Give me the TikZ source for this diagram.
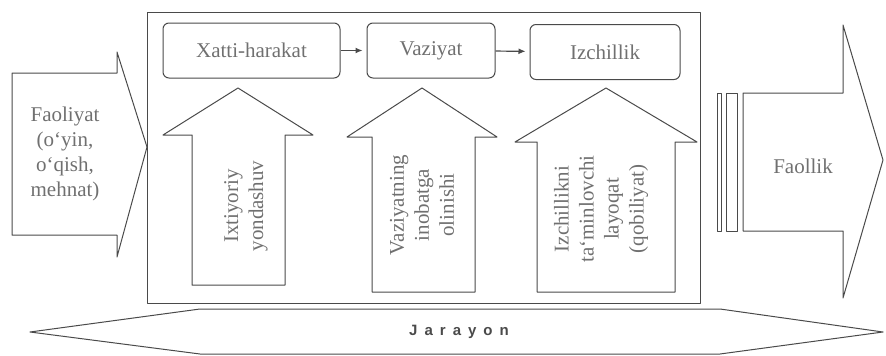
\documentclass[tikz,border=0pt]{standalone}
\usepackage{fontspec}
\setmainfont{Liberation Serif}
\newfontfamily\bandfont{Liberation Sans}
\usetikzlibrary{arrows.meta, positioning}
\definecolor{ink}{HTML}{4A4A4A}
\definecolor{txt}{HTML}{707070}

\begin{document}
\begin{tikzpicture}[x=1pt, y=-1pt,
      shape line/.style={draw=ink, line width=1pt, line join=round},
      stepbox/.style={draw=ink, line width=1pt, rounded corners=6pt, minimum height=55pt,
        inner sep=0pt, font=\fontsize{21}{25}\selectfont, text=txt},
      lbl/.style={align=center, inner sep=0pt, font=\fontsize{21}{25}\selectfont, text=txt},
      uplbl/.style={lbl, rotate=90},
      arr/.style={-{Latex[length=7pt, width=6pt]}, line width=1.2pt, color=ink, shorten >=4pt}]
    \useasboundingbox (0,0) rectangle (886,356);
    % outer frame
    \draw[shape line] (147,12) rectangle (700,303);
    % input and output block arrows
    \draw[shape line] (12,73) -- (117,73) -- (117,52) -- (147,147) -- (117,257) -- (117,235) -- (12,235) -- cycle;
    \draw[shape line] (743,93) -- (843,93) -- (843,25) -- (883,160) -- (843,298) -- (843,231) -- (743,231) -- cycle;
    \draw[shape line] (717,93) rectangle (721,231);
    \draw[shape line] (726,93) rectangle (737,231);
    % process band
    \draw[shape line] (30,332) -- (200,309) -- (720,309) -- (883,332) -- (720,354) -- (200,354) -- cycle;
    % up arrows
    \draw[shape line] (192,285) -- (192,135) -- (163,135) -- (238,88) -- (313,135) -- (285,135) -- (285,285) -- cycle;
    \draw[shape line] (372,292) -- (372,137) -- (347,137) -- (422,88) -- (497,137) -- (475,137) -- (475,292) -- cycle;
    \draw[shape line] (537,292) -- (537,142) -- (515,142) -- (606,88) -- (697,142) -- (675,142) -- (675,292) -- cycle;
    % top row
    \node[stepbox, minimum width=177pt] (xh) at (251.5,50.5) {Xatti-harakat};
    \node[stepbox, minimum width=128pt] (vz) at (431,50.5) {Vaziyat};
    \node[stepbox, minimum width=150pt] (iz) at (605,52) {Izchillik};
    \draw[arr] (xh) -- (vz);
    \draw[arr] (vz) -- (iz);
    % labels
    \node[lbl] (fa) at (65,154) {Faoliyat\\(o‘yin,\\o‘qish,\\mehnat)};
    \node[uplbl] (ix) at (246,206) {Ixtiyoriy\\yondashuv};
    \node[uplbl] (vi) at (422,205) {Vaziyatning\\inobatga\\olinishi};
    \node[uplbl] (il) at (601,209) {Izchillikni\\ta‘minlovchi\\layoqat\\(qobiliyat)};
    \node[lbl] (fl) at (803,166) {Faollik};
    \node[lbl, font=\bandfont\bfseries\fontsize{15}{17}\selectfont, text=ink] (ja) at (459,332)
      {J\hspace{7pt}a\hspace{7pt}r\hspace{7pt}a\hspace{7pt}y\hspace{7pt}o\hspace{7pt}n};
  \end{tikzpicture}
\end{document}
